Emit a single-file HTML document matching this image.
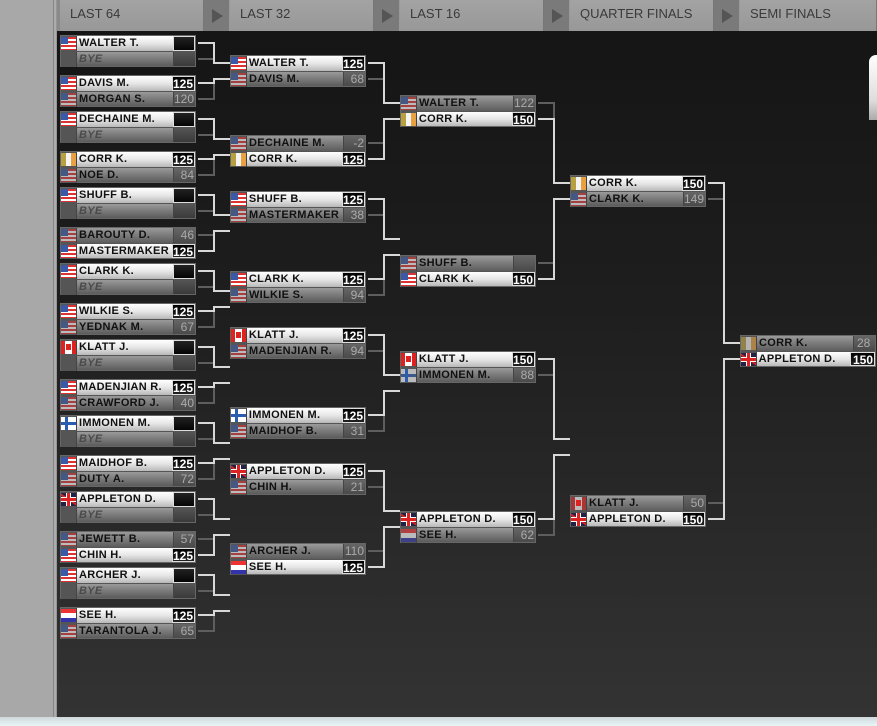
<!DOCTYPE html>
<html><head><meta charset="utf-8"><style>
*{margin:0;padding:0;box-sizing:border-box}
body{width:877px;height:726px;overflow:hidden;position:relative;font-family:"Liberation Sans",sans-serif;background:#2a2a2a}
#lp{position:absolute;left:0;top:0;width:53px;height:717px;background:#a8a8a8}
#lb{position:absolute;left:53px;top:0;width:4px;height:717px;background:linear-gradient(90deg,#777,#bbb,#888)}
#main{position:absolute;left:57px;top:31px;width:820px;height:686px;background:linear-gradient(#151515,#1e1e1e 40%,#2a2a2a 75%,#333)}
#hdr{position:absolute;left:57px;top:0;width:820px;height:31px;background:#8a8a8a}
.tab{position:absolute;top:0;height:31px;width:144px;background:linear-gradient(#a3a3a3,#989898);border-right:1px solid #777;color:#3a3a3a;font-size:13px;padding:6px 0 0 10px}
.arr{position:absolute;top:0;height:31px;width:26px;background:#7a7a7a;border-right:1px solid #999}
.arr:after{content:"";position:absolute;left:8px;top:9px;border-left:11px solid #555;border-top:7px solid transparent;border-bottom:7px solid transparent}
#bot{position:absolute;left:0;top:717px;width:877px;height:9px;background:linear-gradient(#cfd8dc,#e8f6f8)}
#rw{position:absolute;left:869px;top:55px;width:12px;height:65px;border-radius:7px 0 0 0;background:linear-gradient(#fff,#ddd 70%,#aaa)}
.b{position:absolute;width:136px;height:32px;background:#444;border:1px solid #666}
.r{height:15px;display:flex;font-weight:bold;font-size:11px;line-height:15px;color:#111;letter-spacing:.3px}
.r+.r{border-top:1px solid #555}
.f{width:16px;height:15px;position:relative;background:#555;border-right:1px solid #444}
.n{width:96px;padding-left:2px;white-space:nowrap;overflow:hidden}
.s{flex:1;text-align:right;padding-right:1px;font-size:12px;font-weight:normal;border-left:1px solid #444;letter-spacing:0}
.w .n{background:linear-gradient(#fff,#e6e6e6 50%,#b8b8b8)}
.w .s{background:linear-gradient(#000,#222);color:#fff;font-weight:bold;border:1px solid #ddd}
.l .n{background:linear-gradient(#9a9a9a,#7a7a7a 50%,#5c5c5c)}
.l .s{background:linear-gradient(#666,#4a4a4a);color:#aaa}
.e .s{background:linear-gradient(#222,#050505)}
.bye .n{color:#4a4a4a;font-style:italic;font-weight:bold}
.bye .s{background:linear-gradient(#555,#3a3a3a)}
.l .f:before{opacity:.6}
.f:before{content:"";position:absolute;left:0;top:1px;width:15px;height:13px}
.us:before{background:linear-gradient(#3a5aa8,#3a5aa8) 0 0/7px 7px no-repeat,repeating-linear-gradient(#d33 0 2px,#fff 2px 4px)}
.ca:before{background:linear-gradient(90deg,#d22 0 4px,#fff 4px 11px,#d22 11px)}
.ca:after{content:"";position:absolute;left:5px;top:4px;width:5px;height:6px;background:#d22}
.fi:before{background:linear-gradient(#fff 0 5px,#2a5cb0 5px 8px,#fff 8px)}
.fi:after{content:"";position:absolute;left:4px;top:1px;width:3px;height:13px;background:#2a5cb0}
.nl:before{background:linear-gradient(#e33 0 4px,#fff 4px 9px,#33a 9px)}
.ie:before{background:linear-gradient(90deg,#b8a040 0 5px,#f4f4f4 5px 10px,#e8a040 10px)}
.gb:before{background:linear-gradient(#d22,#d22) center/15px 3px no-repeat,linear-gradient(#d22,#d22) center/3px 13px no-repeat,linear-gradient(#fff,#fff) center/15px 5px no-repeat,linear-gradient(#fff,#fff) center/5px 13px no-repeat,linear-gradient(33deg,#224 45%,#d22 45% 55%,#224 55%),#224}
svg{position:absolute;left:0;top:0}
</style></head><body>
<div id="lp"></div><div id="lb"></div><div id="main"></div><div id="hdr"></div>
<div class="tab" style="left:60px">LAST 64</div><div class="arr" style="left:204px"></div>
<div class="tab" style="left:230px">LAST 32</div><div class="arr" style="left:374px"></div>
<div class="tab" style="left:400px">LAST 16</div><div class="arr" style="left:544px"></div>
<div class="tab" style="left:570px">QUARTER FINALS</div><div class="arr" style="left:714px"></div>
<div class="tab" style="left:740px;width:137px">SEMI FINALS</div>
<div id="rw"></div>
<svg width="877" height="726" fill="none" stroke-width="2">
<g stroke="#5e5e5e">
<path d="M198 59H214V43M198 99H214V83M198 135H214V119M198 175H214V159M198 211H214V195M198 235H214V251M198 287H214V271M198 327H214V311M198 363H214V347M198 403H214V387M198 439H214V423M198 479H214V463M198 515H214V499M198 539H214V555M198 591H214V575M198 631H214V615"/>
<path d="M368 79H384V63M368 143H384V159M368 215H384V199M368 295H384V279M368 351H384V335M368 431H384V415M368 487H384V471M368 551H384V567"/>
<path d="M538 103H554V119M538 263H554V279M538 375H554V359M538 535H554V519M708 199H724V183M708 503H724V519"/>
</g>
<g stroke="#d8d8d8">
<path d="M198 43H214V63H230M198 83H214V79H230M198 119H214V139H230M198 159H214V155H230M198 195H214V215H230M198 251H214V231H230M198 271H214V291H230M198 311H214V307H230M198 347H214V367H230M198 387H214V383H230M198 423H214V443H230M198 463H214V459H230M198 499H214V519H230M198 555H214V535H230M198 575H214V595H230M198 615H214V611H230"/>
<path d="M368 63H384V103H400M368 159H384V119H400M368 199H384V239H400M368 279H384V255H400M368 335H384V375H400M368 415H384V391H400M368 471H384V511H400M368 567H384V527H400"/>
<path d="M538 119H554V183H570M538 279H554V199H570M538 359H554V439H570M538 519H554V455H570M708 183H724V343H740M708 519H724V359H740"/>
</g>
</svg>

<!-- LAST 64 -->
<div class="b" style="left:60px;top:35px"><div class="r w e"><div class="f us"></div><div class="n">WALTER T.</div><div class="s"></div></div><div class="r l bye"><div class="f"></div><div class="n">BYE</div><div class="s"></div></div></div>
<div class="b" style="left:60px;top:75px"><div class="r w"><div class="f us"></div><div class="n">DAVIS M.</div><div class="s">125</div></div><div class="r l"><div class="f us"></div><div class="n">MORGAN S.</div><div class="s">120</div></div></div>
<div class="b" style="left:60px;top:111px"><div class="r w e"><div class="f us"></div><div class="n">DECHAINE M.</div><div class="s"></div></div><div class="r l bye"><div class="f"></div><div class="n">BYE</div><div class="s"></div></div></div>
<div class="b" style="left:60px;top:151px"><div class="r w"><div class="f ie"></div><div class="n">CORR K.</div><div class="s">125</div></div><div class="r l"><div class="f us"></div><div class="n">NOE D.</div><div class="s">84</div></div></div>
<div class="b" style="left:60px;top:187px"><div class="r w e"><div class="f us"></div><div class="n">SHUFF B.</div><div class="s"></div></div><div class="r l bye"><div class="f"></div><div class="n">BYE</div><div class="s"></div></div></div>
<div class="b" style="left:60px;top:227px"><div class="r l"><div class="f us"></div><div class="n">BAROUTY D.</div><div class="s">46</div></div><div class="r w"><div class="f us"></div><div class="n">MASTERMAKER</div><div class="s">125</div></div></div>
<div class="b" style="left:60px;top:263px"><div class="r w e"><div class="f us"></div><div class="n">CLARK K.</div><div class="s"></div></div><div class="r l bye"><div class="f"></div><div class="n">BYE</div><div class="s"></div></div></div>
<div class="b" style="left:60px;top:303px"><div class="r w"><div class="f us"></div><div class="n">WILKIE S.</div><div class="s">125</div></div><div class="r l"><div class="f us"></div><div class="n">YEDNAK M.</div><div class="s">67</div></div></div>
<div class="b" style="left:60px;top:339px"><div class="r w e"><div class="f ca"></div><div class="n">KLATT J.</div><div class="s"></div></div><div class="r l bye"><div class="f"></div><div class="n">BYE</div><div class="s"></div></div></div>
<div class="b" style="left:60px;top:379px"><div class="r w"><div class="f us"></div><div class="n">MADENJIAN R.</div><div class="s">125</div></div><div class="r l"><div class="f us"></div><div class="n">CRAWFORD J.</div><div class="s">40</div></div></div>
<div class="b" style="left:60px;top:415px"><div class="r w e"><div class="f fi"></div><div class="n">IMMONEN M.</div><div class="s"></div></div><div class="r l bye"><div class="f"></div><div class="n">BYE</div><div class="s"></div></div></div>
<div class="b" style="left:60px;top:455px"><div class="r w"><div class="f us"></div><div class="n">MAIDHOF B.</div><div class="s">125</div></div><div class="r l"><div class="f us"></div><div class="n">DUTY A.</div><div class="s">72</div></div></div>
<div class="b" style="left:60px;top:491px"><div class="r w e"><div class="f gb"></div><div class="n">APPLETON D.</div><div class="s"></div></div><div class="r l bye"><div class="f"></div><div class="n">BYE</div><div class="s"></div></div></div>
<div class="b" style="left:60px;top:531px"><div class="r l"><div class="f us"></div><div class="n">JEWETT B.</div><div class="s">57</div></div><div class="r w"><div class="f us"></div><div class="n">CHIN H.</div><div class="s">125</div></div></div>
<div class="b" style="left:60px;top:567px"><div class="r w e"><div class="f us"></div><div class="n">ARCHER J.</div><div class="s"></div></div><div class="r l bye"><div class="f"></div><div class="n">BYE</div><div class="s"></div></div></div>
<div class="b" style="left:60px;top:607px"><div class="r w"><div class="f nl"></div><div class="n">SEE H.</div><div class="s">125</div></div><div class="r l"><div class="f us"></div><div class="n">TARANTOLA J.</div><div class="s">65</div></div></div>

<!-- LAST 32 -->
<div class="b" style="left:230px;top:55px"><div class="r w"><div class="f us"></div><div class="n">WALTER T.</div><div class="s">125</div></div><div class="r l"><div class="f us"></div><div class="n">DAVIS M.</div><div class="s">68</div></div></div>
<div class="b" style="left:230px;top:135px"><div class="r l"><div class="f us"></div><div class="n">DECHAINE M.</div><div class="s">-2</div></div><div class="r w"><div class="f ie"></div><div class="n">CORR K.</div><div class="s">125</div></div></div>
<div class="b" style="left:230px;top:191px"><div class="r w"><div class="f us"></div><div class="n">SHUFF B.</div><div class="s">125</div></div><div class="r l"><div class="f us"></div><div class="n">MASTERMAKER</div><div class="s">38</div></div></div>
<div class="b" style="left:230px;top:271px"><div class="r w"><div class="f us"></div><div class="n">CLARK K.</div><div class="s">125</div></div><div class="r l"><div class="f us"></div><div class="n">WILKIE S.</div><div class="s">94</div></div></div>
<div class="b" style="left:230px;top:327px"><div class="r w"><div class="f ca"></div><div class="n">KLATT J.</div><div class="s">125</div></div><div class="r l"><div class="f us"></div><div class="n">MADENJIAN R.</div><div class="s">94</div></div></div>
<div class="b" style="left:230px;top:407px"><div class="r w"><div class="f fi"></div><div class="n">IMMONEN M.</div><div class="s">125</div></div><div class="r l"><div class="f us"></div><div class="n">MAIDHOF B.</div><div class="s">31</div></div></div>
<div class="b" style="left:230px;top:463px"><div class="r w"><div class="f gb"></div><div class="n">APPLETON D.</div><div class="s">125</div></div><div class="r l"><div class="f us"></div><div class="n">CHIN H.</div><div class="s">21</div></div></div>
<div class="b" style="left:230px;top:543px"><div class="r l"><div class="f us"></div><div class="n">ARCHER J.</div><div class="s">110</div></div><div class="r w"><div class="f nl"></div><div class="n">SEE H.</div><div class="s">125</div></div></div>

<!-- LAST 16 -->
<div class="b" style="left:400px;top:95px"><div class="r l"><div class="f us"></div><div class="n">WALTER T.</div><div class="s">122</div></div><div class="r w"><div class="f ie"></div><div class="n">CORR K.</div><div class="s">150</div></div></div>
<div class="b" style="left:400px;top:255px"><div class="r l"><div class="f us"></div><div class="n">SHUFF B.</div><div class="s"></div></div><div class="r w"><div class="f us"></div><div class="n">CLARK K.</div><div class="s">150</div></div></div>
<div class="b" style="left:400px;top:351px"><div class="r w"><div class="f ca"></div><div class="n">KLATT J.</div><div class="s">150</div></div><div class="r l"><div class="f fi"></div><div class="n">IMMONEN M.</div><div class="s">88</div></div></div>
<div class="b" style="left:400px;top:511px"><div class="r w"><div class="f gb"></div><div class="n">APPLETON D.</div><div class="s">150</div></div><div class="r l"><div class="f nl"></div><div class="n">SEE H.</div><div class="s">62</div></div></div>

<!-- QF -->
<div class="b" style="left:570px;top:175px"><div class="r w"><div class="f ie"></div><div class="n">CORR K.</div><div class="s">150</div></div><div class="r l"><div class="f us"></div><div class="n">CLARK K.</div><div class="s">149</div></div></div>
<div class="b" style="left:570px;top:495px"><div class="r l"><div class="f ca"></div><div class="n">KLATT J.</div><div class="s">50</div></div><div class="r w"><div class="f gb"></div><div class="n">APPLETON D.</div><div class="s">150</div></div></div>

<!-- SF -->
<div class="b" style="left:740px;top:335px"><div class="r l"><div class="f ie"></div><div class="n">CORR K.</div><div class="s" style="text-align:left;padding-left:3px">28</div></div><div class="r w"><div class="f gb"></div><div class="n">APPLETON D.</div><div class="s" style="text-align:left;padding-left:2px">150</div></div></div>

<div id="bot"></div>
</body></html>
